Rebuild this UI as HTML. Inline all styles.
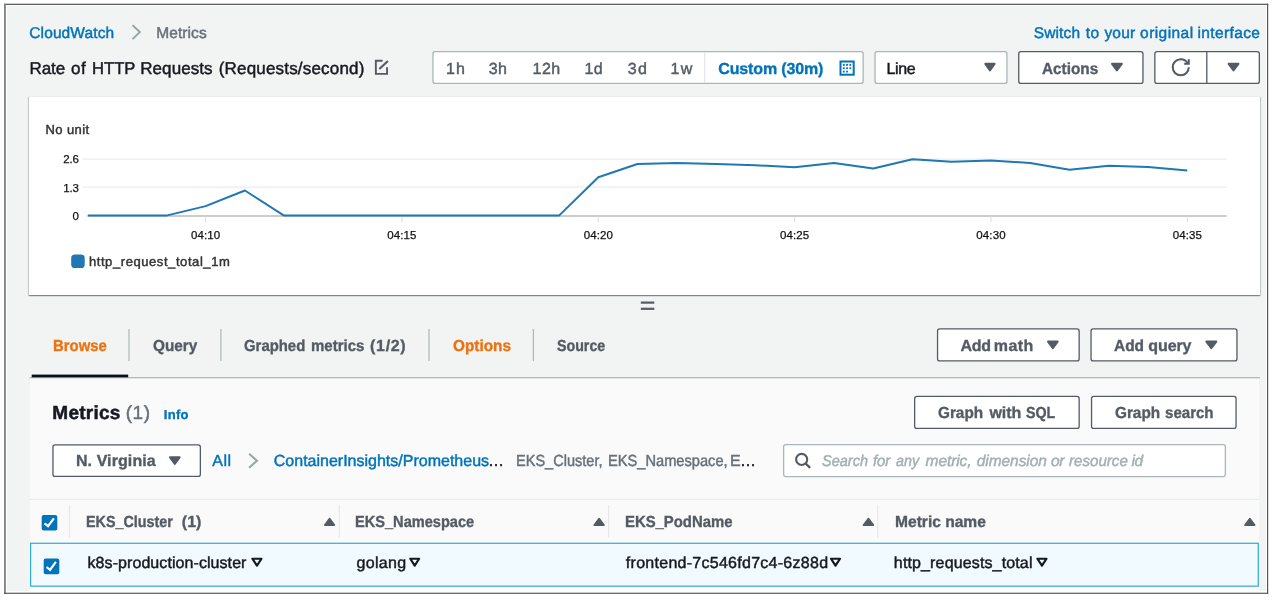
<!DOCTYPE html>
<html lang="en">
<head>
<meta charset="utf-8">
<title>CloudWatch Metrics</title>
<style>
html,body{margin:0;padding:0;}
body{width:1276px;height:601px;background:#fff;position:relative;overflow:hidden;font-family:"Liberation Sans",sans-serif;}
.a{position:absolute;box-sizing:border-box;}
.t{position:absolute;white-space:pre;line-height:1;font-family:"Liberation Sans",sans-serif;transform-origin:0 0;text-rendering:geometricPrecision;}
svg{position:absolute;left:0;top:0;overflow:visible;}
</style>
</head>
<body>
<div class="a" style="left:7px;top:6px;width:1259px;height:585px;background:#f2f3f3;"></div>
<div class="a" style="left:29px;top:96px;width:1231px;height:199px;background:#fff;border-top:1px solid #eaeded;box-shadow:0 1px 1px 0 rgba(0,28,36,.3),1px 1px 1px 0 rgba(0,28,36,.15),-1px 1px 1px 0 rgba(0,28,36,.15);"></div>
<div class="a" style="left:30px;top:378px;width:1229px;height:165px;background:#fafafa;"></div>
<div class="a" style="left:30px;top:543px;width:1229px;height:50px;background:#fff;"></div>
<svg width="1276" height="601" viewBox="0 0 1276 601">
<rect x="4" y="3.7" width="1264.2" height="1.3" fill="#606060"/><rect x="4" y="3.7" width="1.9" height="590.1" fill="#858585"/><rect x="1267" y="3.7" width="1.2" height="590.1" fill="#555"/><rect x="4" y="592.7" width="1264.2" height="1.15" fill="#555"/>
<path d="M132.50 25.10 L139.80 32.10 L132.50 39.10" fill="none" stroke="#95a5a6" stroke-width="2.0"/>
<path d="M382.6 60.7 H375.85 V73.85 H387.05 V67.3" fill="none" stroke="#545b64" stroke-width="1.9"/>
<path d="M379.3 69.1 L387.9 60.9" fill="none" stroke="#545b64" stroke-width="2.1"/>
<rect x="432.95" y="51.65" width="430.20" height="31.70" rx="2.2" fill="#fff" stroke="#aab7b8" stroke-width="1.3"/>
<line x1="704.7" x2="704.7" y1="52" y2="83" stroke="#e1e5e5" stroke-width="1.2"/>
<rect x="840.5" y="61.5" width="13.2" height="13.2" fill="none" stroke="#0073bb" stroke-width="2"/>
<rect x="842.90" y="64.00" width="1.8" height="1.8" fill="#0073bb"/>
<rect x="846.15" y="64.00" width="1.8" height="1.8" fill="#0073bb"/>
<rect x="849.40" y="64.00" width="1.8" height="1.8" fill="#0073bb"/>
<rect x="842.90" y="67.30" width="1.8" height="1.8" fill="#0073bb"/>
<rect x="846.15" y="67.30" width="1.8" height="1.8" fill="#0073bb"/>
<rect x="849.40" y="67.30" width="1.8" height="1.8" fill="#0073bb"/>
<rect x="842.90" y="70.70" width="1.8" height="1.8" fill="#0073bb"/>
<rect x="846.15" y="70.70" width="1.8" height="1.8" fill="#0073bb"/>
<rect x="875.05" y="51.65" width="131.90" height="31.70" rx="2.2" fill="#fff" stroke="#aab7b8" stroke-width="1.3"/>
<path d="M985.30 63.85 H994.60 L989.95 70.50 Z" fill="#545b64" stroke="#545b64" stroke-width="2.0" stroke-linejoin="round"/>
<rect x="1018.75" y="51.65" width="124.20" height="31.70" rx="2.2" fill="#fff" stroke="#545b64" stroke-width="1.3"/>
<path d="M1112.00 63.85 H1121.80 L1116.90 70.50 Z" fill="#545b64" stroke="#545b64" stroke-width="2.0" stroke-linejoin="round"/>
<rect x="1154.85" y="51.65" width="104.50" height="31.70" rx="2.2" fill="#fff" stroke="#545b64" stroke-width="1.3"/>
<line x1="1206.8" x2="1206.8" y1="51.5" y2="83.5" stroke="#545b64" stroke-width="1.3"/>
<g transform="translate(1171.6,58.1) scale(1.143)" fill="none" stroke="#545b64" stroke-width="1.8"><path d="M15 8c0 3.87-3.13 7-7 7s-7-3.13-7-7 3.13-7 7-7c2.79 0 5.2 1.63 6.33 4"/><path d="M15 1v4h-4"/></g>
<path d="M1228.60 63.85 H1238.40 L1233.50 70.50 Z" fill="#545b64" stroke="#545b64" stroke-width="2.0" stroke-linejoin="round"/>
<line x1="82.5" x2="1226.5" y1="159.1" y2="159.1" stroke="#ececec" stroke-width="1.2"/>
<line x1="82.5" x2="1226.5" y1="187.2" y2="187.2" stroke="#ececec" stroke-width="1.2"/>
<line x1="87.5" x2="1226.5" y1="215.9" y2="215.9" stroke="#cccccc" stroke-width="2"/>
<line x1="205.6" x2="205.6" y1="216.5" y2="222" stroke="#e2e2e2" stroke-width="1.2"/>
<line x1="401.9" x2="401.9" y1="216.5" y2="222" stroke="#e2e2e2" stroke-width="1.2"/>
<line x1="598.3" x2="598.3" y1="216.5" y2="222" stroke="#e2e2e2" stroke-width="1.2"/>
<line x1="794.6" x2="794.6" y1="216.5" y2="222" stroke="#e2e2e2" stroke-width="1.2"/>
<line x1="991.0" x2="991.0" y1="216.5" y2="222" stroke="#e2e2e2" stroke-width="1.2"/>
<line x1="1187.3" x2="1187.3" y1="216.5" y2="222" stroke="#e2e2e2" stroke-width="1.2"/>
<polyline fill="none" stroke="#1f77b4" stroke-width="2" stroke-linejoin="round" points="87.8,215.6 127.1,215.6 166.3,215.6 205.6,206.1 244.9,190.5 284.1,215.6 323.4,215.6 362.7,215.6 401.9,215.6 441.2,215.6 480.5,215.6 519.7,215.6 559.0,215.6 598.3,177.3 637.5,164.0 676.8,163.0 716.1,163.9 755.4,165.2 794.6,167.2 833.9,163.0 873.2,168.5 912.4,159.2 951.7,161.7 991.0,160.4 1030.2,163.0 1069.5,169.7 1108.8,165.8 1148.0,167.1 1187.3,170.6"/>
<rect x="71.2" y="254.5" width="13.5" height="13.5" rx="3.6" fill="#1f77b4"/>
<rect x="640.8" y="301.5" width="13.5" height="2.2" fill="#545b64"/><rect x="640.8" y="307.7" width="13.5" height="2.2" fill="#545b64"/>
<line x1="129" x2="129" y1="329" y2="361" stroke="#aab7b8" stroke-width="1.2"/>
<line x1="220.9" x2="220.9" y1="329" y2="361" stroke="#aab7b8" stroke-width="1.2"/>
<line x1="429" x2="429" y1="329" y2="361" stroke="#aab7b8" stroke-width="1.2"/>
<line x1="533.4" x2="533.4" y1="329" y2="361" stroke="#aab7b8" stroke-width="1.2"/>
<rect x="29.5" y="377" width="1230.5" height="1.3" fill="#b0babf"/>
<rect x="31.7" y="374.6" width="96.5" height="2.7" fill="#0b0f16"/>
<rect x="937.55" y="328.95" width="141.60" height="32.00" rx="2.2" fill="#fff" stroke="#545b64" stroke-width="1.3"/>
<path d="M1048.00 341.60 H1057.70 L1052.85 348.20 Z" fill="#545b64" stroke="#545b64" stroke-width="2.0" stroke-linejoin="round"/>
<rect x="1091.05" y="328.95" width="145.90" height="32.00" rx="2.2" fill="#fff" stroke="#545b64" stroke-width="1.3"/>
<path d="M1206.30 341.60 H1216.30 L1211.30 348.20 Z" fill="#545b64" stroke="#545b64" stroke-width="2.0" stroke-linejoin="round"/>
<rect x="914.65" y="396.45" width="164.50" height="32.00" rx="2.2" fill="#fff" stroke="#545b64" stroke-width="1.3"/>
<rect x="1091.55" y="396.45" width="144.50" height="32.00" rx="2.2" fill="#fff" stroke="#545b64" stroke-width="1.3"/>
<rect x="52.95" y="444.85" width="147.40" height="31.50" rx="2.2" fill="#fff" stroke="#545b64" stroke-width="1.3"/>
<path d="M170.00 457.30 H179.60 L174.80 463.90 Z" fill="#545b64" stroke="#545b64" stroke-width="2.0" stroke-linejoin="round"/>
<path d="M249.10 453.70 L257.00 460.70 L249.10 467.70" fill="none" stroke="#95a5a6" stroke-width="2.0"/>
<rect x="783.65" y="444.65" width="441.70" height="31.90" rx="2.2" fill="#fff" stroke="#aab7b8" stroke-width="1.3"/>
<circle cx="801.65" cy="459.4" r="5.55" fill="none" stroke="#545b64" stroke-width="2.1"/><path d="M805.5 463.3 L810.1 467.9" stroke="#545b64" stroke-width="2.2" fill="none"/>
<rect x="30" y="498.8" width="1229" height="1.1" fill="#e6e9e9"/>
<line x1="69.5" x2="69.5" y1="505" y2="537.6" stroke="#e6e9e9" stroke-width="1.2"/>
<line x1="339.2" x2="339.2" y1="505" y2="537.6" stroke="#e6e9e9" stroke-width="1.2"/>
<line x1="608.6" x2="608.6" y1="505" y2="537.6" stroke="#e6e9e9" stroke-width="1.2"/>
<line x1="877.7" x2="877.7" y1="505" y2="537.6" stroke="#e6e9e9" stroke-width="1.2"/>
<path d="M325.00 525.10 H334.20 L329.60 518.80 Z" fill="#545b64" stroke="#545b64" stroke-width="2.0" stroke-linejoin="round"/>
<path d="M594.50 525.10 H603.80 L599.15 518.80 Z" fill="#545b64" stroke="#545b64" stroke-width="2.0" stroke-linejoin="round"/>
<path d="M863.70 525.10 H873.20 L868.45 518.80 Z" fill="#545b64" stroke="#545b64" stroke-width="2.0" stroke-linejoin="round"/>
<path d="M1245.20 525.10 H1254.50 L1249.85 518.80 Z" fill="#545b64" stroke="#545b64" stroke-width="2.0" stroke-linejoin="round"/>
<rect x="41.7" y="515" width="15.6" height="15.6" rx="2" fill="#0073bb"/><path d="M44.53 523.38 L48.04 526.21 L53.89 518.32" fill="none" stroke="#fff" stroke-width="2.2"/>
<rect x="30.65" y="543.25" width="1227.6" height="42.9" fill="#f1faff" stroke="#1ba5d0" stroke-width="1.1"/>
<rect x="43.7" y="558.6" width="15.6" height="15.6" rx="2" fill="#0073bb"/><path d="M46.53 566.99 L50.04 569.81 L55.89 561.92" fill="none" stroke="#fff" stroke-width="2.2"/>
<path d="M252.40 558.75 H261.50 L256.95 565.60 Z" fill="none" stroke="#16191f" stroke-width="2.2" stroke-linejoin="round"/>
<path d="M410.30 558.75 H419.10 L414.70 565.60 Z" fill="none" stroke="#16191f" stroke-width="2.2" stroke-linejoin="round"/>
<path d="M831.00 558.75 H840.00 L835.50 565.60 Z" fill="none" stroke="#16191f" stroke-width="2.2" stroke-linejoin="round"/>
<path d="M1037.40 558.75 H1046.50 L1041.95 565.60 Z" fill="none" stroke="#16191f" stroke-width="2.2" stroke-linejoin="round"/>
<g font-family="Liberation Sans, sans-serif" font-size="11.5" fill="#111" stroke="#111" stroke-width="0.25" text-anchor="end" letter-spacing="-0.2">
<text x="78.7" y="163.4">2.6</text><text x="78.7" y="191.6">1.3</text><text x="78.7" y="219.5">0</text></g>
<g font-family="Liberation Sans, sans-serif" font-size="11.5" fill="#111" stroke="#111" stroke-width="0.25" text-anchor="middle" letter-spacing="0.1">
<text x="205.6" y="239.3">04:10</text>
<text x="401.9" y="239.3">04:15</text>
<text x="598.3" y="239.3">04:20</text>
<text x="794.6" y="239.3">04:25</text>
<text x="991.0" y="239.3">04:30</text>
<text x="1187.3" y="239.3">04:35</text>
</g>
</svg>
<span class="t" style="left:29.30px;top:26px;font-size:15.5px;color:#0073bb;letter-spacing:0.111px;-webkit-text-stroke:0.45px;">CloudWatch</span>
<span class="t" style="left:156.25px;top:26px;font-size:15.5px;color:#687078;letter-spacing:0.083px;-webkit-text-stroke:0.45px;">Metrics</span>
<span class="t" style="left:1033.85px;top:26px;font-size:15.5px;color:#0073bb;letter-spacing:0.100px;-webkit-text-stroke:0.45px;">Switch</span>
<span class="t" style="left:1085.70px;top:26px;font-size:15.5px;color:#0073bb;letter-spacing:0.450px;-webkit-text-stroke:0.45px;">to</span>
<span class="t" style="left:1104.45px;top:26px;font-size:15.5px;color:#0073bb;letter-spacing:0.167px;-webkit-text-stroke:0.45px;">your</span>
<span class="t" style="left:1140.10px;top:26px;font-size:15.5px;color:#0073bb;letter-spacing:0.429px;-webkit-text-stroke:0.45px;">original</span>
<span class="t" style="left:1197.50px;top:26px;font-size:15.5px;color:#0073bb;letter-spacing:0.375px;-webkit-text-stroke:0.45px;">interface</span>
<span class="t" style="left:29.40px;top:60px;font-size:17px;color:#16191f;-webkit-text-stroke:0.45px;">Rate</span>
<span class="t" style="left:71.05px;top:60px;font-size:17px;color:#16191f;letter-spacing:0.450px;-webkit-text-stroke:0.45px;">of</span>
<span class="t" style="left:92.30px;top:60px;font-size:17px;color:#16191f;-webkit-text-stroke:0.45px;transform:scaleX(0.9771);">HTTP</span>
<span class="t" style="left:140.25px;top:60px;font-size:17px;color:#16191f;letter-spacing:0.071px;-webkit-text-stroke:0.45px;">Requests</span>
<span class="t" style="left:218.70px;top:60px;font-size:17px;color:#16191f;letter-spacing:0.188px;-webkit-text-stroke:0.45px;">(Requests/second)</span>
<span class="t" style="left:446.10px;top:62px;font-size:16px;color:#545b64;letter-spacing:1.000px;-webkit-text-stroke:0.45px;">1h</span>
<span class="t" style="left:488.70px;top:62px;font-size:16px;color:#545b64;letter-spacing:0.400px;-webkit-text-stroke:0.45px;">3h</span>
<span class="t" style="left:532.50px;top:62px;font-size:16px;color:#545b64;letter-spacing:0.500px;-webkit-text-stroke:0.45px;">12h</span>
<span class="t" style="left:584.45px;top:62px;font-size:16px;color:#545b64;letter-spacing:0.400px;-webkit-text-stroke:0.45px;">1d</span>
<span class="t" style="left:627.80px;top:62px;font-size:16px;color:#545b64;letter-spacing:1.200px;-webkit-text-stroke:0.45px;">3d</span>
<span class="t" style="left:670.55px;top:62px;font-size:16px;color:#545b64;letter-spacing:1.200px;-webkit-text-stroke:0.45px;">1w</span>
<span class="t" style="left:718.25px;top:62px;font-size:16px;color:#0073bb;letter-spacing:-0.136px;font-weight:bold;-webkit-text-stroke:0.35px;">Custom (30m)</span>
<span class="t" style="left:886.50px;top:62px;font-size:16px;color:#16191f;letter-spacing:-0.333px;-webkit-text-stroke:0.45px;">Line</span>
<span class="t" style="left:1041.75px;top:62px;font-size:16px;color:#545b64;font-weight:bold;-webkit-text-stroke:0.35px;transform:scaleX(0.9570);">Actions</span>
<span class="t" style="left:45.45px;top:123px;font-size:13px;color:#333;letter-spacing:0.417px;-webkit-text-stroke:0.45px;">No unit</span>
<span class="t" style="left:88.95px;top:255px;font-size:13px;color:#333;letter-spacing:0.575px;-webkit-text-stroke:0.45px;">http_request_total_1m</span>
<span class="t" style="left:52.80px;top:339px;font-size:16px;color:#ec7211;font-weight:bold;-webkit-text-stroke:0.35px;transform:scaleX(0.9300);">Browse</span>
<span class="t" style="left:153.20px;top:339px;font-size:16px;color:#545b64;font-weight:bold;-webkit-text-stroke:0.35px;transform:scaleX(0.9567);">Query</span>
<span class="t" style="left:244.15px;top:339px;font-size:16px;color:#545b64;font-weight:bold;-webkit-text-stroke:0.35px;transform:scaleX(0.9309);">Graphed</span>
<span class="t" style="left:310.65px;top:339px;font-size:16px;color:#545b64;font-weight:bold;-webkit-text-stroke:0.35px;transform:scaleX(0.9377);">metrics</span>
<span class="t" style="left:370.00px;top:339px;font-size:16px;color:#545b64;letter-spacing:0.700px;font-weight:bold;-webkit-text-stroke:0.35px;">(1/2)</span>
<span class="t" style="left:453.15px;top:339px;font-size:16px;color:#ec7211;font-weight:bold;-webkit-text-stroke:0.35px;transform:scaleX(0.9584);">Options</span>
<span class="t" style="left:557.20px;top:339px;font-size:16px;color:#545b64;font-weight:bold;-webkit-text-stroke:0.35px;transform:scaleX(0.8891);">Source</span>
<span class="t" style="left:960.50px;top:339px;font-size:16px;color:#545b64;letter-spacing:-0.250px;font-weight:bold;-webkit-text-stroke:0.35px;">Add</span>
<span class="t" style="left:993.75px;top:339px;font-size:16px;color:#545b64;letter-spacing:0.467px;font-weight:bold;-webkit-text-stroke:0.35px;">math</span>
<span class="t" style="left:1114.10px;top:339px;font-size:16px;color:#545b64;font-weight:bold;-webkit-text-stroke:0.35px;transform:scaleX(0.9667);">Add</span>
<span class="t" style="left:1148.35px;top:339px;font-size:16px;color:#545b64;letter-spacing:-0.125px;font-weight:bold;-webkit-text-stroke:0.35px;">query</span>
<span class="t" style="left:52.35px;top:404px;font-size:19px;color:#16191f;letter-spacing:0.250px;font-weight:bold;-webkit-text-stroke:0.5px;">Metrics</span>
<span class="t" style="left:125.85px;top:404px;font-size:19px;color:#687078;letter-spacing:0.450px;-webkit-text-stroke:0.45px;">(1)</span>
<span class="t" style="left:163.70px;top:408px;font-size:13px;color:#0073bb;letter-spacing:0.333px;font-weight:bold;-webkit-text-stroke:0.35px;">Info</span>
<span class="t" style="left:938.20px;top:406px;font-size:16px;color:#545b64;font-weight:bold;-webkit-text-stroke:0.35px;transform:scaleX(0.9567);">Graph</span>
<span class="t" style="left:989.40px;top:406px;font-size:16px;color:#545b64;font-weight:bold;-webkit-text-stroke:0.35px;">with</span>
<span class="t" style="left:1025.85px;top:406px;font-size:16px;color:#545b64;font-weight:bold;-webkit-text-stroke:0.35px;transform:scaleX(0.8917);">SQL</span>
<span class="t" style="left:1114.80px;top:406px;font-size:16px;color:#545b64;font-weight:bold;-webkit-text-stroke:0.35px;transform:scaleX(0.9568);">Graph</span>
<span class="t" style="left:1164.70px;top:406px;font-size:16px;color:#545b64;font-weight:bold;-webkit-text-stroke:0.35px;transform:scaleX(0.9413);">search</span>
<span class="t" style="left:75.90px;top:454px;font-size:16px;color:#545b64;letter-spacing:0.100px;font-weight:bold;-webkit-text-stroke:0.35px;">N. Virginia</span>
<span class="t" style="left:212.35px;top:454px;font-size:16px;color:#0073bb;letter-spacing:0.450px;-webkit-text-stroke:0.45px;">All</span>
<span class="t" style="left:273.80px;top:454px;font-size:16px;color:#0073bb;-webkit-text-stroke:0.45px;">ContainerInsights/Prometheus</span>
<span class="t" style="left:488.10px;top:454px;font-size:16px;color:#16191f;-webkit-text-stroke:0.45px;">…</span>
<span class="t" style="left:516.15px;top:454px;font-size:16px;color:#687078;-webkit-text-stroke:0.45px;transform:scaleX(0.9087);">EKS_Cluster,</span>
<span class="t" style="left:607.90px;top:454px;font-size:16px;color:#687078;-webkit-text-stroke:0.45px;transform:scaleX(0.9148);">EKS_Namespace,</span>
<span class="t" style="left:729.90px;top:454px;font-size:16px;color:#687078;-webkit-text-stroke:0.45px;">E</span>
<span class="t" style="left:739.95px;top:454px;font-size:16px;color:#16191f;-webkit-text-stroke:0.45px;">…</span>
<span class="t" style="left:822.10px;top:454px;font-size:15.5px;color:#a2b0b1;-webkit-text-stroke:0.45px;font-style:italic;transform:scaleX(0.9378);">Search</span>
<span class="t" style="left:873.30px;top:454px;font-size:15.5px;color:#a2b0b1;-webkit-text-stroke:0.45px;font-style:italic;transform:scaleX(0.9486);">for</span>
<span class="t" style="left:896.40px;top:454px;font-size:15.5px;color:#a2b0b1;-webkit-text-stroke:0.45px;font-style:italic;transform:scaleX(0.9241);">any</span>
<span class="t" style="left:925.55px;top:454px;font-size:15.5px;color:#a2b0b1;letter-spacing:-0.083px;-webkit-text-stroke:0.45px;font-style:italic;">metric,</span>
<span class="t" style="left:976.75px;top:454px;font-size:15.5px;color:#a2b0b1;letter-spacing:-0.062px;-webkit-text-stroke:0.45px;font-style:italic;">dimension</span>
<span class="t" style="left:1051.05px;top:454px;font-size:15.5px;color:#a2b0b1;letter-spacing:-0.450px;-webkit-text-stroke:0.45px;font-style:italic;">or</span>
<span class="t" style="left:1068.85px;top:454px;font-size:15.5px;color:#a2b0b1;-webkit-text-stroke:0.45px;font-style:italic;transform:scaleX(0.9751);">resource</span>
<span class="t" style="left:1131.45px;top:454px;font-size:15.5px;color:#a2b0b1;letter-spacing:-0.450px;-webkit-text-stroke:0.45px;font-style:italic;">id</span>
<span class="t" style="left:86.40px;top:515px;font-size:16px;color:#545b64;font-weight:bold;-webkit-text-stroke:0.35px;transform:scaleX(0.8959);">EKS_Cluster</span>
<span class="t" style="left:181.80px;top:515px;font-size:16px;color:#545b64;font-weight:bold;-webkit-text-stroke:0.35px;">(1)</span>
<span class="t" style="left:355.45px;top:515px;font-size:16px;color:#545b64;font-weight:bold;-webkit-text-stroke:0.35px;transform:scaleX(0.9115);">EKS_Namespace</span>
<span class="t" style="left:625.00px;top:515px;font-size:16px;color:#545b64;font-weight:bold;-webkit-text-stroke:0.35px;transform:scaleX(0.9298);">EKS_PodName</span>
<span class="t" style="left:894.75px;top:515px;font-size:16px;color:#545b64;font-weight:bold;-webkit-text-stroke:0.35px;transform:scaleX(0.9732);">Metric name</span>
<span class="t" style="left:87.55px;top:556px;font-size:16px;color:#16191f;letter-spacing:0.071px;-webkit-text-stroke:0.45px;">k8s-production-cluster</span>
<span class="t" style="left:356.55px;top:556px;font-size:16px;color:#16191f;letter-spacing:0.300px;-webkit-text-stroke:0.45px;">golang</span>
<span class="t" style="left:625.85px;top:556px;font-size:16px;color:#16191f;letter-spacing:0.271px;-webkit-text-stroke:0.45px;">frontend-7c546fd7c4-6z88d</span>
<span class="t" style="left:893.85px;top:556px;font-size:16px;color:#16191f;letter-spacing:0.139px;-webkit-text-stroke:0.45px;">http_requests_total</span>
</body>
</html>
